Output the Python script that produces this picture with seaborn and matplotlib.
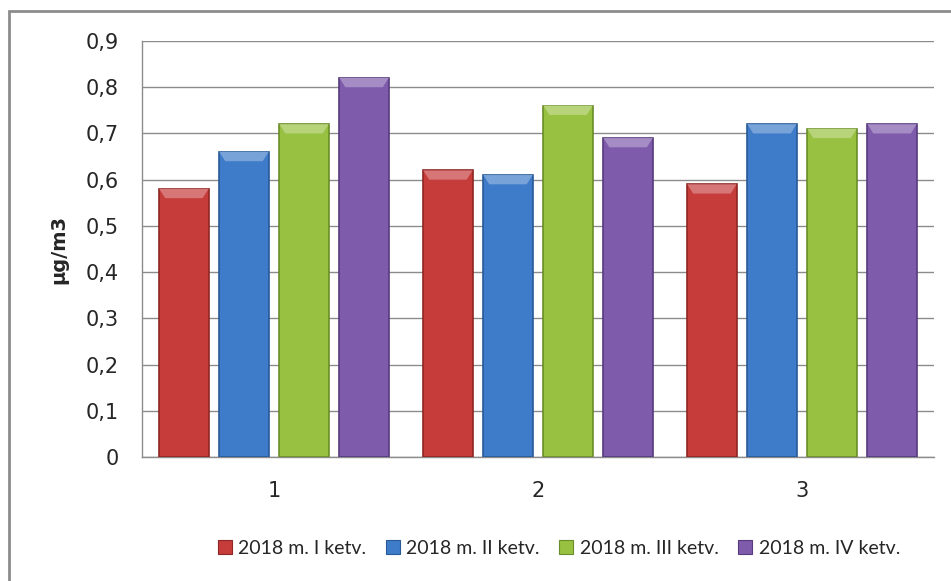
import numpy as np
import pandas as pd
import matplotlib.pyplot as plt
import seaborn as sns
from matplotlib.patches import Rectangle, Polygon
import matplotlib.colors as mcolors

# data
groups = ["1", "2", "3"]
series = ["2018 m. I ketv.", "2018 m. II ketv.", "2018 m. III ketv.", "2018 m. IV ketv."]
q1 = [0.58, 0.62, 0.59]
q2 = [0.66, 0.61, 0.72]
q3 = [0.72, 0.76, 0.71]
q4 = [0.82, 0.69, 0.72]
yticks = [0, 0.1, 0.2, 0.3, 0.4, 0.5, 0.6, 0.7, 0.8, 0.9]
ytick_labels = ["0", "0,1", "0,2", "0,3", "0,4", "0,5", "0,6", "0,7", "0,8", "0,9"]

colors = ["#C63C3B", "#3E7CC9", "#98C141", "#7E5BAB"]
edges = ["#8E2623", "#275A96", "#6A8C2A", "#563B7E"]

df = pd.DataFrame({
    "group": groups * 4,
    "series": np.repeat(series, 3),
    "value": q1 + q2 + q3 + q4,
})

sns.set_style("white")
plt.rcParams["font.family"] = ["DejaVu Sans"]

fig = plt.figure(figsize=(9.51, 5.81), dpi=100)
ax = fig.add_axes([142 / 951, 1 - 457 / 581, (934 - 142) / 951, (457 - 41) / 581])

sns.barplot(data=df, x="group", y="value", hue="series", palette=colors,
            saturation=1, width=0.91, gap=0.18, ax=ax, legend=False, zorder=3)

ax.set_xlim(-0.5, 2.5)
ax.set_ylim(0, 0.9)

# darker rim plus a light bevel at the top of every bar
bevel = 0.02  # in y data units
for i, s in enumerate(series):
    light = mcolors.to_rgb(colors[i])
    light = tuple(c + (1 - c) * 0.3 for c in light)
    for bar in ax.containers[i]:
        bar.set_edgecolor(edges[i])
        bar.set_linewidth(1.2)
        x0, w, h = bar.get_x(), bar.get_width(), bar.get_height()
        inset = w * 0.12
        ax.add_patch(Polygon([(x0, h), (x0 + w, h), (x0 + w - inset, h - bevel),
                              (x0 + inset, h - bevel)], closed=True,
                             facecolor=light, edgecolor="none", zorder=4))

ax.set_yticks(yticks)
ax.set_yticklabels(ytick_labels)
ax.grid(axis="y", color="#8C8C8C", linewidth=1, zorder=0)
ax.set_axisbelow(True)
for side in ["top", "right"]:
    ax.spines[side].set_visible(False)
for side in ["left", "bottom"]:
    ax.spines[side].set_color("#8C8C8C")
    ax.spines[side].set_linewidth(1)
ax.tick_params(axis="y", length=4, color="#8C8C8C", labelsize=15, pad=13)
ax.tick_params(axis="x", length=0, labelsize=15, pad=17)
ax.set_xlabel("")
ax.set_ylabel("µg/m3", fontsize=14, fontweight="bold", labelpad=12)

handles = [Rectangle((0, 0), 1, 1, facecolor=c, edgecolor=e, linewidth=0.8)
           for c, e in zip(colors, edges)]
fig.legend(handles, series, loc="center", bbox_to_anchor=(559 / 951, 1 - 548 / 581),
           ncol=4, frameon=False, handlelength=0.7, handleheight=0.7,
           handletextpad=0.35, columnspacing=1.0,
           prop={"family": "Lato", "size": 14})

# outer chart frame (right and bottom sides run off the picture)
fig.patches.append(Rectangle((9 / 951, -0.05), 1.05, 1 - 11 / 581 + 0.05,
                             transform=fig.transFigure, fill=False,
                             edgecolor="#8C8C8C", linewidth=2))

fig.savefig("out.png", dpi=100)
